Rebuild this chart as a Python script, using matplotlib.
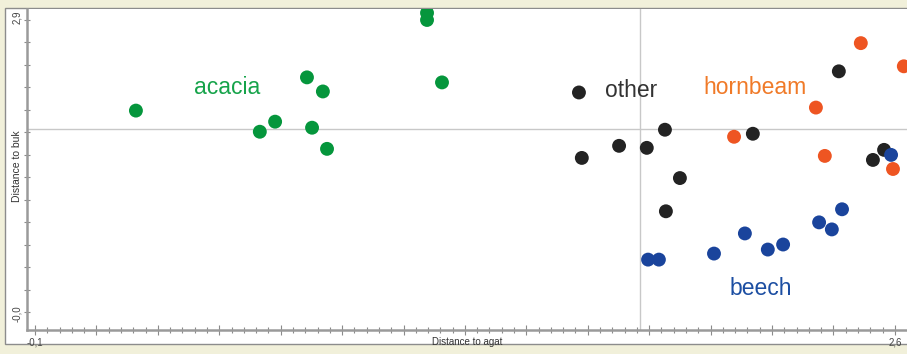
import numpy as np
import matplotlib
matplotlib.use('Agg')
import matplotlib.pyplot as plt
from matplotlib.patches import Rectangle

plt.rcParams['font.family'] = ['Liberation Sans', 'DejaVu Sans']

acacia_x = [0.217, 0.606, 0.654, 0.754, 0.804, 0.770, 0.817, 1.131, 1.131, 1.178]
acacia_y = [2.00, 1.79, 1.89, 2.33, 2.19, 1.83, 1.62, 2.97, 2.90, 2.28]

other_x = [1.608, 1.617, 1.734, 1.821, 1.878, 1.925, 1.881, 2.154, 2.424, 2.531, 2.566]
other_y = [2.18, 1.53, 1.65, 1.63, 1.81, 1.33, 1.00, 1.77, 2.39, 1.51, 1.61]

hornbeam_x = [2.095, 2.352, 2.380, 2.493, 2.594, 2.628]
hornbeam_y = [1.74, 2.03, 1.55, 2.67, 1.42, 2.44]

beech_x = [1.825, 1.859, 2.032, 2.129, 2.201, 2.249, 2.362, 2.402, 2.434, 2.588]
beech_y = [0.52, 0.52, 0.58, 0.78, 0.62, 0.67, 0.89, 0.82, 1.02, 1.56]

ref_x = 1.80
ref_y = 1.82

groups = [
    ('acacia', acacia_x, acacia_y, '#05963c', '#16a34a', 0.40, 2.23),
    ('other', other_x, other_y, '#232323', '#333333', 1.69, 2.20),
    ('hornbeam', hornbeam_x, hornbeam_y, '#ee5522', '#f07a28', 2.00, 2.23),
    ('beech', beech_x, beech_y, '#1a449c', '#1c4ea2', 2.08, 0.23),
]

fig = plt.figure(figsize=(9.07, 3.54), dpi=100)
fig.patch.set_facecolor('#f1f0da')
fig.patches.append(Rectangle((5 / 907, 10 / 354), 1, 336 / 354, transform=fig.transFigure,
                             facecolor='white', edgecolor='#8c8c8c', lw=1.0, zorder=-5))

ax = fig.add_axes([27 / 907, 24 / 354, 880 / 907, 321 / 354])
ax.set_zorder(2)
ax.set_facecolor('white')
ax.set_xlim(-0.125, 2.638)
ax.set_ylim(-0.179, 3.009)

ax.axvline(ref_x, color='#c8c8c8', lw=1.0, zorder=1)
ax.axhline(ref_y, color='#c8c8c8', lw=1.0, zorder=1)

for name, xs, ys, c, tc, lx, ly in groups:
    ax.scatter(xs, ys, s=100, color=c, edgecolors='none', zorder=3)
    ax.text(lx, ly, name, color=tc, fontsize=16.5, ha='left', va='center', zorder=4)

for s in ['top', 'right']:
    ax.spines[s].set_visible(False)
for s in ['left', 'bottom']:
    ax.spines[s].set_color('#9a9a9a')
    ax.spines[s].set_linewidth(1.8)

ax.set_xticks(np.linspace(-0.1, 2.6, 15))
ax.set_xticks(np.linspace(-0.1, 2.6, 71), minor=True)
ax.set_yticks(np.linspace(0, 2.9, 14))
ax.set_xticklabels([])
ax.set_yticklabels([])
ax.tick_params(axis='both', which='both', color='#8a8a8a', direction='inout')
ax.tick_params(axis='x', which='major', length=7, width=0.8)
ax.tick_params(axis='x', which='minor', length=4, width=0.8)
ax.tick_params(axis='y', which='major', length=5, width=0.8)

ax.text(-0.1, -0.30, '-0,1', fontsize=7, color='#444444', ha='center', va='center', clip_on=False)
ax.text(2.6, -0.30, '2,6', fontsize=7, color='#444444', ha='center', va='center', clip_on=False)
ax.annotate('2,9', xy=(0, 2.93), xycoords=('axes fraction', 'data'), xytext=(-7, 0),
            textcoords='offset points', fontsize=7, color='#444444', rotation=90, ha='center', va='center')
ax.annotate('-0,0', xy=(0, -0.02), xycoords=('axes fraction', 'data'), xytext=(-7, 0),
            textcoords='offset points', fontsize=7, color='#444444', rotation=90, ha='center', va='center')

ax.set_xlabel('Distance to agat', fontsize=7, color='#333333', labelpad=-2)
ax.set_ylabel('Distance to buk', fontsize=7.5, color='#333333', va='center')
ax.yaxis.set_label_coords(-0.0115, 0.51)

fig.savefig('out.png', dpi=100, facecolor=fig.get_facecolor())
